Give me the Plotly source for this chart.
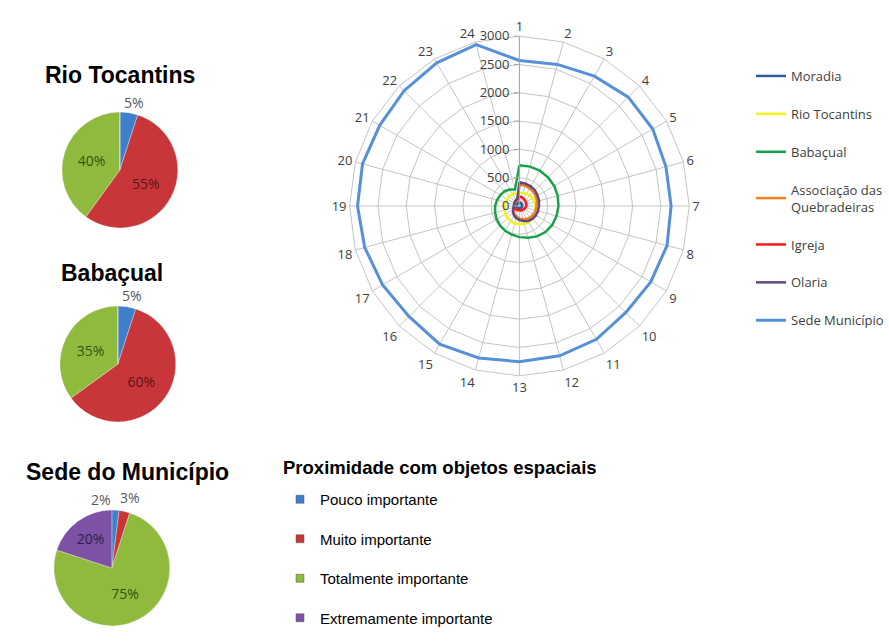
import plotly.graph_objects as go

# ---------------- data ----------------
spokes = [str(i) for i in range(1, 25)]

moradia      = [60, 60, 55, 55, 50, 50, 50, 45, 45, 45, 40, 40, 40, 40, 45, 45, 45, 50, 50, 50, 55, 55, 60, 60]
rio_tocantins = [230, 240, 250, 260, 270, 280, 290, 300, 310, 320, 330, 330, 320, 320, 310, 300, 290, 270, 255, 250, 250, 250, 245, 240]
babacual     = [720, 720, 720, 715, 710, 700, 690, 680, 670, 650, 620, 580, 550, 525, 505, 485, 465, 445, 430, 410, 390, 370, 335, 300]
associacao   = [380, 370, 360, 350, 335, 320, 300, 295, 290, 280, 265, 240, 220, 195, 170, 145, 120, 100, 90, 90, 90, 95, 100, 110]
igreja       = [170, 160, 150, 140, 130, 130, 120, 110, 100, 90, 85, 80, 75, 75, 80, 85, 90, 90, 90, 95, 100, 110, 120, 130]
olaria       = [420, 410, 400, 390, 370, 360, 345, 340, 335, 325, 305, 275, 250, 220, 190, 160, 130, 110, 100, 100, 100, 110, 120, 130]
sede         = [2570, 2590, 2650, 2720, 2720, 2680, 2680, 2700, 2680, 2660, 2720, 2740, 2750, 2780, 2820, 2760, 2790, 2830, 2860, 2870, 2850, 2880, 2920, 2950]

radar_names = ["Moradia", "Rio Tocantins", "Babaçual", "Associação das<br>Quebradeiras", "Igreja", "Olaria", "Sede Município"]
radar_series = [moradia, rio_tocantins, babacual, associacao, igreja, olaria, sede]
radar_colors = ["#2a5c9a", "#f2f21e", "#17a24a", "#f0801e", "#ff1a1a", "#62487e", "#5590d8"]
radar_widths = [2.5, 2.5, 2.5, 2.5, 2.5, 2.5, 3]

pie_categories = ["Pouco importante", "Muito importante", "Totalmente importante", "Extremamente importante"]
pie_colors = ["#3f7fcc", "#c8363a", "#8fba3e", "#7c52a6"]

rio_pie = [5, 55, 40, 0]
baba_pie = [5, 60, 35, 0]
sede_pie = [2, 3, 75, 20]

pie_titles = ["Rio Tocantins", "Babaçual", "Sede do Município"]
legend_title = "Proximidade com objetos espaciais"

# ---------------- figure ----------------
W, H = 889, 642
fig = go.Figure()

for name, vals, col, w in zip(radar_names, radar_series, radar_colors, radar_widths):
    fig.add_trace(go.Scatterpolar(
        r=vals + [vals[0]], theta=spokes + [spokes[0]],
        mode="lines", name=name, line=dict(color=col, width=w),
        legend="legend", legendgroup=name,
    ))


def dom(cx, cy, d):
    return dict(x=[(cx - d / 2) / W, (cx + d / 2) / W], y=[1 - (cy + d / 2) / H, 1 - (cy - d / 2) / H])


inner_colors = {0: "#595959", 1: "#5a1515", 2: "#34520f", 3: "#2e1f45"}

# (values, centre x, centre y, diameter, positions of small-slice labels)
pie_specs = [
    (rio_pie, 120, 170, 116, {0: (134, 102)}),
    (baba_pie, 118, 364, 116, {0: (132, 295)}),
    (sede_pie, 112, 568, 116, {0: (101, 499), 1: (130, 497)}),
]

annotations = []
for vals, cx, cy, d, small in pie_specs:
    tt = ["" if (i in small or v == 0) else "%{percent:.0%}" for i, v in enumerate(vals)]
    fig.add_trace(go.Pie(
        labels=pie_categories, values=vals, domain=dom(cx, cy, d),
        sort=False, direction="clockwise", rotation=0,
        marker=dict(colors=pie_colors, line=dict(color="rgba(255,255,255,0.6)", width=0.5)),
        texttemplate=tt, textposition="inside", insidetextorientation="horizontal",
        textfont=dict(family="Open Sans", size=14, color=[inner_colors[i] for i in range(4)]),
        showlegend=False, hoverinfo="label+percent",
    ))
    total = sum(vals)
    for i, (x, y) in small.items():
        annotations.append(dict(
            text=f"{round(vals[i] / total * 100)}%", x=x / W, y=1 - y / H,
            xref="paper", yref="paper", showarrow=False,
            xanchor="center", yanchor="middle",
            font=dict(family="Open Sans", size=14, color="#595959"),
        ))

# legend entries for pie categories
for cat, col in zip(pie_categories, pie_colors):
    fig.add_trace(go.Scatter(
        x=[None], y=[None], mode="markers", name=cat,
        marker=dict(symbol="square", size=8, color=col, line=dict(color="#555", width=0.5)),
        legend="legend2", legendgroup=cat,
    ))

for title, (x, y) in zip(pie_titles, [(120, 75), (112, 273), (128, 472)]):
    annotations.append(dict(
        text="<b>" + title + "</b>", x=x / W, y=1 - y / H, xref="paper", yref="paper",
        showarrow=False, xanchor="center", yanchor="middle",
        font=dict(family="Liberation Sans", size=23, color="#000000"),
    ))

annotations.append(dict(
    text="<b>" + legend_title + "</b>", x=281 / W, y=1 - 467 / H, xref="paper", yref="paper",
    showarrow=False, xanchor="left", yanchor="middle",
    font=dict(family="Liberation Sans", size=18.5, color="#000000"),
))

grid = "#c4c4c4"
fig.update_layout(
    width=W, height=H, margin=dict(l=0, r=0, t=0, b=0),
    paper_bgcolor="white", plot_bgcolor="white",
    xaxis=dict(visible=False), yaxis=dict(visible=False),
    polar=dict(
        domain=dict(x=[350 / W, 690 / W], y=[1 - 376 / H, 1 - 36 / H]),
        gridshape="linear", bgcolor="white",
        angularaxis=dict(rotation=90, direction="clockwise", type="category",
                         categoryorder="array", categoryarray=spokes,
                         showline=True, linecolor=grid, linewidth=1,
                         gridcolor=grid, ticks="",
                         tickfont=dict(family="Open Sans", size=13, color="#404040")),
        radialaxis=dict(range=[0, 3000], dtick=500, angle=90, tickangle=90,
                        side="counterclockwise", showline=True, linecolor="#a6a6a6",
                        gridcolor=grid, ticks="outside", ticklen=5, tickcolor="#a6a6a6",
                        tickfont=dict(family="Open Sans", size=13, color="#404040")),
    ),
    legend=dict(x=752 / W, y=1 - 61 / H, xanchor="left", yanchor="top",
                font=dict(family="Open Sans", size=13, color="#404040"),
                tracegroupgap=18, itemwidth=30, bgcolor="rgba(0,0,0,0)"),
    legend2=dict(x=280 / W, y=1 - 483 / H, xanchor="left", yanchor="top",
                 font=dict(family="Liberation Sans", size=15, color="#000"),
                 tracegroupgap=17, itemwidth=30, bgcolor="rgba(0,0,0,0)"),
    annotations=annotations,
    showlegend=True,
)

fig.write_html("out.html")
